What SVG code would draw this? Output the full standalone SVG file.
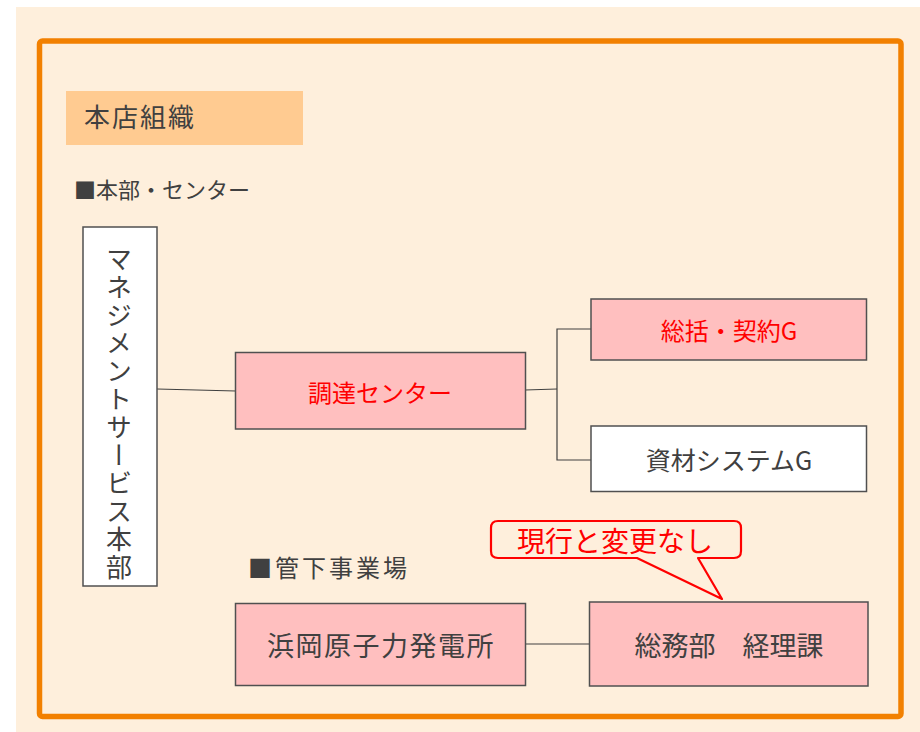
<svg xmlns="http://www.w3.org/2000/svg" width="920" height="732" viewBox="0 0 920 732">
<style>
text{font-family:"Noto Sans CJK JP","Noto Sans",sans-serif;fill:#404040;}
.box{stroke:#505050;stroke-width:1.5;}
.pink{fill:#FFBFBF;}
.white{fill:#FFFFFF;}
.red{fill:#FF0000;}
.conn{stroke:#404040;stroke-width:1.2;fill:none;}
.lbl{text-anchor:middle;dominant-baseline:central;}
</style>
<rect x="0" y="0" width="920" height="732" fill="#FFFFFF"/>
<rect x="16" y="7" width="904" height="725" fill="#FEEFDC"/>
<rect x="39.5" y="41" width="861.5" height="675.5" rx="3" fill="none" stroke="#F28000" stroke-width="5.5"/>
<g id="title">
<rect x="66" y="91" width="237" height="54" fill="#FFCB91"/>
<text x="84" y="127" font-size="26" letter-spacing="2">本店組織</text>
</g>
<text x="74" y="198" font-size="22">■本部・センター</text>
<text x="248" y="577" font-size="24" letter-spacing="3">■管下事業場</text>
<g id="connectors">
<path class="conn" d="M157,389 L236,391"/>
<path class="conn" d="M525,390 L557,389"/>
<path class="conn" d="M591,329 L557,329 L557,460 L591,460"/>
<path class="conn" d="M526,644 L590,644"/>
</g>
<g id="mgmt">
<rect class="box white" x="83" y="227" width="74" height="359"/>
<text x="119" y="246" font-size="26" letter-spacing="2" writing-mode="vertical-rl" style="writing-mode:vertical-rl">マネジメントサービス本部</text>
</g>
<g id="chotatsu">
<rect class="box pink" x="235.5" y="352.5" width="290" height="76.5"/>
<text class="lbl red" x="380" y="391" font-size="24">調達センター</text>
</g>
<g id="sokatsu">
<rect class="box pink" x="591" y="299" width="275.5" height="61"/>
<text class="lbl red" x="729" y="329.5" font-size="24">総括・契約G</text>
</g>
<g id="shizai">
<rect class="box white" x="591" y="426" width="275.5" height="65.5"/>
<text class="lbl" x="729" y="459" font-size="25">資材システムG</text>
</g>
<g id="hamaoka">
<rect class="box pink" x="235.5" y="603.5" width="290" height="82"/>
<text class="lbl" x="381" y="644.5" font-size="27" letter-spacing="1.5">浜岡原子力発電所</text>
</g>
<g id="somu">
<rect class="box pink" x="589.5" y="602" width="278.5" height="84"/>
<text class="lbl" x="729" y="644.5" font-size="27">総務部　経理課</text>
</g>
<g id="callout">
<path d="M498,521 L734,521 Q741,521 741,528 L741,551 Q741,558 734,558 L698,558 L722,599 L637,558 L498,558 Q491,558 491,551 L491,528 Q491,521 498,521 Z" fill="#FEEFDC" stroke="#FF0000" stroke-width="2.2" stroke-linejoin="round"/>
<text class="red" x="615" y="540" font-size="28" text-anchor="middle" dominant-baseline="central">現行と変更なし</text>
</g>
</svg>
